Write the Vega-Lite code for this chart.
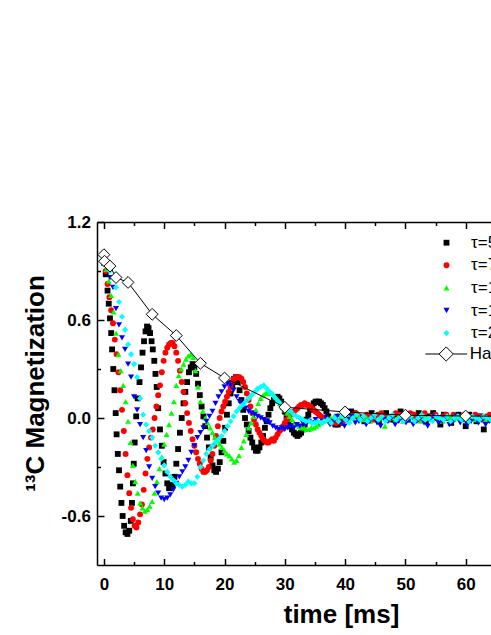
{
"$schema": "https://vega.github.io/schema/vega-lite/v6.json",
"width": 394, "height": 343,
"autosize": {"type": "none"},
"padding": {"left": 97, "top": 222, "right": 0, "bottom": 70},
"background": "white",
"config": {"view": {"stroke": null}, "font": "Liberation Sans"},
"resolve": {"axis": {"x": "independent"}},
"layer": [
{
"data": {"values": [
{"s":"a","t":0,"m":0.95},{"s":"a","t":0.3,"m":0.88},{"s":"a","t":0.6,"m":0.78},{"s":"a","t":0.8,"m":0.7},{"s":"a","t":1.0,"m":0.61},{"s":"a","t":1.2,"m":0.52},{"s":"a","t":1.35,"m":0.42},{"s":"a","t":1.55,"m":0.3},{"s":"a","t":1.75,"m":0.17},{"s":"a","t":1.95,"m":0.03},{"s":"a","t":2.1,"m":-0.1},{"s":"a","t":2.3,"m":-0.22},{"s":"a","t":2.5,"m":-0.32},{"s":"a","t":2.7,"m":-0.42},{"s":"a","t":2.9,"m":-0.52},{"s":"a","t":3.1,"m":-0.6},{"s":"a","t":3.35,"m":-0.66},{"s":"a","t":3.6,"m":-0.7},{"s":"a","t":3.9,"m":-0.71},{"s":"a","t":4.2,"m":-0.69},{"s":"a","t":4.45,"m":-0.63},{"s":"a","t":4.65,"m":-0.52},{"s":"a","t":4.8,"m":-0.4},{"s":"a","t":4.95,"m":-0.28},{"s":"a","t":5.1,"m":-0.15},{"s":"a","t":5.35,"m":0.01},{"s":"a","t":5.6,"m":0.12},{"s":"a","t":5.9,"m":0.22},{"s":"a","t":6.15,"m":0.31},{"s":"a","t":6.4,"m":0.4},{"s":"a","t":6.65,"m":0.47},{"s":"a","t":6.9,"m":0.53},{"s":"a","t":7.15,"m":0.56},{"s":"a","t":7.4,"m":0.55},{"s":"a","t":7.65,"m":0.52},{"s":"a","t":7.9,"m":0.47},{"s":"a","t":8.1,"m":0.42},{"s":"a","t":8.35,"m":0.35},{"s":"a","t":8.55,"m":0.27},{"s":"a","t":8.75,"m":0.19},{"s":"a","t":9.0,"m":0.06},{"s":"a","t":9.3,"m":-0.07},{"s":"a","t":9.6,"m":-0.17},{"s":"a","t":9.9,"m":-0.27},{"s":"a","t":10.2,"m":-0.34},{"s":"a","t":10.5,"m":-0.4},{"s":"a","t":10.8,"m":-0.43},{"s":"a","t":11.1,"m":-0.42},{"s":"a","t":11.4,"m":-0.41},{"s":"a","t":11.7,"m":-0.36},{"s":"a","t":12.0,"m":-0.28},{"s":"a","t":12.3,"m":-0.19},{"s":"a","t":12.6,"m":-0.09},{"s":"a","t":12.9,"m":0.0},{"s":"a","t":13.2,"m":0.09},{"s":"a","t":13.5,"m":0.16},{"s":"a","t":13.8,"m":0.22},{"s":"a","t":14.1,"m":0.28},{"s":"a","t":14.4,"m":0.31},{"s":"a","t":14.7,"m":0.33},{"s":"a","t":15.0,"m":0.31},{"s":"a","t":15.3,"m":0.27},{"s":"a","t":15.6,"m":0.21},{"s":"a","t":15.9,"m":0.14},{"s":"a","t":16.2,"m":0.07},{"s":"a","t":16.5,"m":0.01},{"s":"a","t":16.8,"m":-0.05},{"s":"a","t":17.1,"m":-0.12},{"s":"a","t":17.4,"m":-0.18},{"s":"a","t":17.7,"m":-0.24},{"s":"a","t":18.0,"m":-0.29},{"s":"a","t":18.3,"m":-0.32},{"s":"a","t":18.6,"m":-0.33},{"s":"a","t":18.9,"m":-0.31},{"s":"a","t":19.2,"m":-0.27},{"s":"a","t":19.5,"m":-0.21},{"s":"a","t":19.8,"m":-0.14},{"s":"a","t":20.1,"m":-0.06},{"s":"a","t":20.4,"m":0.02},{"s":"a","t":20.7,"m":0.09},{"s":"a","t":21.0,"m":0.15},{"s":"a","t":21.3,"m":0.2},{"s":"a","t":21.6,"m":0.24},{"s":"a","t":21.9,"m":0.25},{"s":"a","t":22.2,"m":0.22},{"s":"a","t":22.5,"m":0.17},{"s":"a","t":22.8,"m":0.11},{"s":"a","t":23.1,"m":0.05},{"s":"a","t":23.4,"m":0.0},{"s":"a","t":23.7,"m":-0.04},{"s":"a","t":24.0,"m":-0.08},{"s":"a","t":24.3,"m":-0.12},{"s":"a","t":24.6,"m":-0.15},{"s":"a","t":24.9,"m":-0.18},{"s":"a","t":25.2,"m":-0.2},{"s":"a","t":25.5,"m":-0.2},{"s":"a","t":25.8,"m":-0.18},{"s":"a","t":26.1,"m":-0.15},{"s":"a","t":26.4,"m":-0.11},{"s":"a","t":26.7,"m":-0.06},{"s":"a","t":27.0,"m":-0.02},{"s":"a","t":27.3,"m":0.02},{"s":"a","t":27.6,"m":0.06},{"s":"a","t":27.9,"m":0.09},{"s":"a","t":28.2,"m":0.11},{"s":"a","t":28.5,"m":0.12},{"s":"a","t":28.8,"m":0.13},{"s":"a","t":29.1,"m":0.12},{"s":"a","t":29.4,"m":0.1},{"s":"a","t":29.7,"m":0.07},{"s":"a","t":30.0,"m":0.04},{"s":"a","t":30.3,"m":0.01},{"s":"a","t":30.6,"m":-0.02},{"s":"a","t":30.9,"m":-0.05},{"s":"a","t":31.2,"m":-0.07},{"s":"a","t":31.5,"m":-0.09},{"s":"a","t":31.8,"m":-0.1},{"s":"a","t":32.1,"m":-0.11},{"s":"a","t":32.4,"m":-0.1},{"s":"a","t":32.7,"m":-0.09},{"s":"a","t":33.0,"m":-0.07},{"s":"a","t":33.3,"m":-0.04},{"s":"a","t":33.6,"m":-0.01},{"s":"a","t":33.9,"m":0.02},{"s":"a","t":34.2,"m":0.05},{"s":"a","t":34.5,"m":0.07},{"s":"a","t":34.8,"m":0.09},{"s":"a","t":35.1,"m":0.1},{"s":"a","t":35.4,"m":0.1},{"s":"a","t":35.7,"m":0.1},{"s":"a","t":36.0,"m":0.09},{"s":"a","t":36.3,"m":0.08},{"s":"a","t":36.6,"m":0.06},{"s":"a","t":36.9,"m":0.04},{"s":"a","t":37.2,"m":0.01},{"s":"a","t":37.6,"m":-0.02},{"s":"a","t":38.0,"m":-0.03},{"s":"a","t":38.4,"m":-0.04},{"s":"a","t":38.8,"m":-0.04},{"s":"a","t":39.2,"m":-0.03},{"s":"a","t":39.6,"m":-0.01},{"s":"a","t":40.0,"m":0.01},{"s":"a","t":40.5,"m":0.03},{"s":"a","t":41.0,"m":0.04},{"s":"a","t":41.5,"m":0.03},{"s":"a","t":42.0,"m":0.01},{"s":"a","t":42.6,"m":0.0},{"s":"a","t":43.2,"m":-0.02},{"s":"a","t":43.8,"m":0.01},{"s":"a","t":44.4,"m":0.03},{"s":"a","t":45.0,"m":0.0},{"s":"a","t":45.6,"m":-0.02},{"s":"a","t":46.2,"m":0.02},{"s":"a","t":46.8,"m":0.03},{"s":"a","t":47.4,"m":0.0},{"s":"a","t":48.0,"m":-0.01},{"s":"a","t":48.6,"m":0.02},{"s":"a","t":49.2,"m":0.04},{"s":"a","t":49.8,"m":0.01},{"s":"a","t":50.4,"m":-0.01},{"s":"a","t":51.0,"m":0.02},{"s":"a","t":51.6,"m":0.0},{"s":"a","t":52.2,"m":0.03},{"s":"a","t":52.8,"m":0.01},{"s":"a","t":53.4,"m":-0.02},{"s":"a","t":54.0,"m":0.01},{"s":"a","t":54.6,"m":0.03},{"s":"a","t":55.2,"m":0.0},{"s":"a","t":55.8,"m":-0.04},{"s":"a","t":56.4,"m":0.02},{"s":"a","t":57.0,"m":0.0},{"s":"a","t":57.6,"m":-0.03},{"s":"a","t":58.2,"m":0.01},{"s":"a","t":58.8,"m":0.02},{"s":"a","t":59.4,"m":0.0},{"s":"a","t":60.0,"m":-0.05},{"s":"a","t":60.6,"m":0.02},{"s":"a","t":61.2,"m":0.0},{"s":"a","t":61.8,"m":-0.02},{"s":"a","t":62.4,"m":0.01},{"s":"a","t":63.0,"m":-0.07},{"s":"a","t":63.6,"m":0.0},{"s":"a","t":64.2,"m":-0.01},
{"s":"b","t":0,"m":0.95},{"s":"b","t":0.3,"m":0.9},{"s":"b","t":0.6,"m":0.82},{"s":"b","t":0.9,"m":0.74},{"s":"b","t":1.2,"m":0.66},{"s":"b","t":1.5,"m":0.58},{"s":"b","t":1.8,"m":0.48},{"s":"b","t":2.1,"m":0.39},{"s":"b","t":2.4,"m":0.28},{"s":"b","t":2.7,"m":0.17},{"s":"b","t":3.0,"m":0.05},{"s":"b","t":3.3,"m":-0.08},{"s":"b","t":3.6,"m":-0.22},{"s":"b","t":3.9,"m":-0.35},{"s":"b","t":4.2,"m":-0.46},{"s":"b","t":4.5,"m":-0.55},{"s":"b","t":4.8,"m":-0.62},{"s":"b","t":5.1,"m":-0.66},{"s":"b","t":5.4,"m":-0.67},{"s":"b","t":5.7,"m":-0.64},{"s":"b","t":6.0,"m":-0.59},{"s":"b","t":6.3,"m":-0.53},{"s":"b","t":6.6,"m":-0.44},{"s":"b","t":6.9,"m":-0.34},{"s":"b","t":7.2,"m":-0.25},{"s":"b","t":7.5,"m":-0.18},{"s":"b","t":7.8,"m":-0.12},{"s":"b","t":8.1,"m":-0.07},{"s":"b","t":8.4,"m":0.0},{"s":"b","t":8.7,"m":0.07},{"s":"b","t":9.0,"m":0.14},{"s":"b","t":9.3,"m":0.2},{"s":"b","t":9.6,"m":0.28},{"s":"b","t":9.9,"m":0.35},{"s":"b","t":10.2,"m":0.4},{"s":"b","t":10.5,"m":0.43},{"s":"b","t":10.8,"m":0.45},{"s":"b","t":11.1,"m":0.46},{"s":"b","t":11.4,"m":0.46},{"s":"b","t":11.7,"m":0.44},{"s":"b","t":12.0,"m":0.4},{"s":"b","t":12.3,"m":0.35},{"s":"b","t":12.6,"m":0.29},{"s":"b","t":12.9,"m":0.22},{"s":"b","t":13.2,"m":0.16},{"s":"b","t":13.5,"m":0.09},{"s":"b","t":13.8,"m":0.03},{"s":"b","t":14.1,"m":-0.03},{"s":"b","t":14.4,"m":-0.08},{"s":"b","t":14.7,"m":-0.13},{"s":"b","t":15.0,"m":-0.17},{"s":"b","t":15.3,"m":-0.21},{"s":"b","t":15.6,"m":-0.25},{"s":"b","t":15.9,"m":-0.28},{"s":"b","t":16.2,"m":-0.31},{"s":"b","t":16.5,"m":-0.33},{"s":"b","t":16.8,"m":-0.33},{"s":"b","t":17.1,"m":-0.32},{"s":"b","t":17.4,"m":-0.3},{"s":"b","t":17.7,"m":-0.26},{"s":"b","t":18.0,"m":-0.22},{"s":"b","t":18.3,"m":-0.17},{"s":"b","t":18.6,"m":-0.11},{"s":"b","t":18.9,"m":-0.05},{"s":"b","t":19.2,"m":0.0},{"s":"b","t":19.5,"m":0.04},{"s":"b","t":19.8,"m":0.07},{"s":"b","t":20.1,"m":0.1},{"s":"b","t":20.4,"m":0.13},{"s":"b","t":20.7,"m":0.16},{"s":"b","t":21.0,"m":0.19},{"s":"b","t":21.3,"m":0.22},{"s":"b","t":21.6,"m":0.24},{"s":"b","t":21.9,"m":0.25},{"s":"b","t":22.2,"m":0.25},{"s":"b","t":22.5,"m":0.25},{"s":"b","t":22.8,"m":0.24},{"s":"b","t":23.1,"m":0.22},{"s":"b","t":23.4,"m":0.19},{"s":"b","t":23.7,"m":0.15},{"s":"b","t":24.0,"m":0.11},{"s":"b","t":24.3,"m":0.07},{"s":"b","t":24.6,"m":0.03},{"s":"b","t":24.9,"m":-0.01},{"s":"b","t":25.2,"m":-0.04},{"s":"b","t":25.5,"m":-0.07},{"s":"b","t":25.8,"m":-0.09},{"s":"b","t":26.1,"m":-0.11},{"s":"b","t":26.4,"m":-0.13},{"s":"b","t":26.7,"m":-0.14},{"s":"b","t":27.0,"m":-0.15},{"s":"b","t":27.3,"m":-0.15},{"s":"b","t":27.6,"m":-0.14},{"s":"b","t":27.9,"m":-0.13},{"s":"b","t":28.2,"m":-0.14},{"s":"b","t":28.5,"m":-0.12},{"s":"b","t":28.8,"m":-0.1},{"s":"b","t":29.1,"m":-0.08},{"s":"b","t":29.4,"m":-0.07},{"s":"b","t":29.7,"m":-0.05},{"s":"b","t":30.0,"m":-0.03},{"s":"b","t":30.3,"m":-0.01},{"s":"b","t":30.6,"m":0.0},{"s":"b","t":30.9,"m":0.02},{"s":"b","t":31.2,"m":0.03},{"s":"b","t":31.5,"m":0.04},{"s":"b","t":31.8,"m":0.05},{"s":"b","t":32.1,"m":0.06},{"s":"b","t":32.4,"m":0.07},{"s":"b","t":32.7,"m":0.08},{"s":"b","t":33.0,"m":0.08},{"s":"b","t":33.3,"m":0.09},{"s":"b","t":33.6,"m":0.08},{"s":"b","t":33.9,"m":0.08},{"s":"b","t":34.2,"m":0.07},{"s":"b","t":34.5,"m":0.06},{"s":"b","t":34.8,"m":0.05},{"s":"b","t":35.1,"m":0.04},{"s":"b","t":35.4,"m":0.03},{"s":"b","t":35.7,"m":0.02},{"s":"b","t":36.0,"m":0.01},{"s":"b","t":36.5,"m":0.0},{"s":"b","t":37.0,"m":-0.01},{"s":"b","t":37.5,"m":-0.02},{"s":"b","t":38.0,"m":-0.03},{"s":"b","t":38.5,"m":-0.03},{"s":"b","t":39.0,"m":-0.02},{"s":"b","t":39.5,"m":-0.03},{"s":"b","t":40.0,"m":-0.01},{"s":"b","t":40.6,"m":0.01},{"s":"b","t":41.2,"m":0.02},{"s":"b","t":41.8,"m":0.03},{"s":"b","t":42.4,"m":0.01},{"s":"b","t":43.0,"m":0.0},{"s":"b","t":43.6,"m":0.02},{"s":"b","t":44.2,"m":0.01},{"s":"b","t":44.8,"m":-0.01},{"s":"b","t":45.4,"m":0.02},{"s":"b","t":46.0,"m":0.03},{"s":"b","t":46.6,"m":0.01},{"s":"b","t":47.2,"m":-0.01},{"s":"b","t":47.8,"m":0.01},{"s":"b","t":48.4,"m":0.03},{"s":"b","t":49.0,"m":0.02},{"s":"b","t":49.6,"m":0.0},{"s":"b","t":50.2,"m":0.01},{"s":"b","t":50.8,"m":0.03},{"s":"b","t":51.4,"m":0.02},{"s":"b","t":52.0,"m":-0.01},{"s":"b","t":52.6,"m":0.01},{"s":"b","t":53.2,"m":0.03},{"s":"b","t":53.8,"m":0.0},{"s":"b","t":54.4,"m":0.01},{"s":"b","t":55.0,"m":0.02},{"s":"b","t":55.6,"m":-0.01},{"s":"b","t":56.2,"m":0.01},{"s":"b","t":56.8,"m":0.02},{"s":"b","t":57.4,"m":0.0},{"s":"b","t":58.0,"m":0.02},{"s":"b","t":58.6,"m":0.01},{"s":"b","t":59.2,"m":-0.01},{"s":"b","t":59.8,"m":0.02},{"s":"b","t":60.4,"m":0.01},{"s":"b","t":61.0,"m":0.0},{"s":"b","t":61.6,"m":0.02},{"s":"b","t":62.2,"m":0.01},{"s":"b","t":62.8,"m":-0.01},{"s":"b","t":63.4,"m":0.01},{"s":"b","t":64.0,"m":0.02},
{"s":"c","t":0,"m":0.95},{"s":"c","t":0.4,"m":0.91},{"s":"c","t":0.8,"m":0.84},{"s":"c","t":1.2,"m":0.75},{"s":"c","t":1.6,"m":0.65},{"s":"c","t":2.0,"m":0.52},{"s":"c","t":2.4,"m":0.39},{"s":"c","t":2.8,"m":0.29},{"s":"c","t":3.2,"m":0.2},{"s":"c","t":3.6,"m":0.1},{"s":"c","t":4.0,"m":-0.02},{"s":"c","t":4.4,"m":-0.15},{"s":"c","t":4.8,"m":-0.29},{"s":"c","t":5.2,"m":-0.39},{"s":"c","t":5.6,"m":-0.46},{"s":"c","t":6.0,"m":-0.52},{"s":"c","t":6.4,"m":-0.55},{"s":"c","t":6.8,"m":-0.57},{"s":"c","t":7.2,"m":-0.56},{"s":"c","t":7.6,"m":-0.54},{"s":"c","t":8.0,"m":-0.51},{"s":"c","t":8.4,"m":-0.46},{"s":"c","t":8.8,"m":-0.39},{"s":"c","t":9.2,"m":-0.31},{"s":"c","t":9.6,"m":-0.24},{"s":"c","t":10.0,"m":-0.16},{"s":"c","t":10.4,"m":-0.1},{"s":"c","t":10.8,"m":-0.04},{"s":"c","t":11.2,"m":0.03},{"s":"c","t":11.6,"m":0.1},{"s":"c","t":12.0,"m":0.2},{"s":"c","t":12.4,"m":0.26},{"s":"c","t":12.8,"m":0.3},{"s":"c","t":13.2,"m":0.33},{"s":"c","t":13.6,"m":0.36},{"s":"c","t":14.0,"m":0.38},{"s":"c","t":14.4,"m":0.39},{"s":"c","t":14.8,"m":0.37},{"s":"c","t":15.2,"m":0.29},{"s":"c","t":15.6,"m":0.19},{"s":"c","t":16.0,"m":0.1},{"s":"c","t":16.4,"m":0.04},{"s":"c","t":16.8,"m":0.0},{"s":"c","t":17.2,"m":-0.03},{"s":"c","t":17.6,"m":-0.06},{"s":"c","t":18.0,"m":-0.09},{"s":"c","t":18.4,"m":-0.12},{"s":"c","t":18.8,"m":-0.14},{"s":"c","t":19.2,"m":-0.16},{"s":"c","t":19.6,"m":-0.18},{"s":"c","t":20.0,"m":-0.2},{"s":"c","t":20.4,"m":-0.22},{"s":"c","t":20.8,"m":-0.23},{"s":"c","t":21.2,"m":-0.25},{"s":"c","t":21.6,"m":-0.27},{"s":"c","t":22.0,"m":-0.26},{"s":"c","t":22.4,"m":-0.23},{"s":"c","t":22.8,"m":-0.18},{"s":"c","t":23.2,"m":-0.14},{"s":"c","t":23.6,"m":-0.1},{"s":"c","t":24.0,"m":-0.06},{"s":"c","t":24.4,"m":-0.03},{"s":"c","t":24.8,"m":0.01},{"s":"c","t":25.2,"m":0.05},{"s":"c","t":25.6,"m":0.09},{"s":"c","t":26.0,"m":0.12},{"s":"c","t":26.4,"m":0.14},{"s":"c","t":26.8,"m":0.15},{"s":"c","t":27.2,"m":0.16},{"s":"c","t":27.6,"m":0.15},{"s":"c","t":28.0,"m":0.15},{"s":"c","t":28.4,"m":0.13},{"s":"c","t":28.8,"m":0.11},{"s":"c","t":29.2,"m":0.09},{"s":"c","t":29.6,"m":0.07},{"s":"c","t":30.0,"m":0.05},{"s":"c","t":30.4,"m":0.03},{"s":"c","t":30.8,"m":0.01},{"s":"c","t":31.2,"m":-0.01},{"s":"c","t":31.6,"m":-0.03},{"s":"c","t":32.0,"m":-0.04},{"s":"c","t":32.4,"m":-0.05},{"s":"c","t":32.8,"m":-0.06},{"s":"c","t":33.2,"m":-0.06},{"s":"c","t":33.6,"m":-0.07},{"s":"c","t":34.0,"m":-0.07},{"s":"c","t":34.4,"m":-0.06},{"s":"c","t":34.8,"m":-0.06},{"s":"c","t":35.2,"m":-0.05},{"s":"c","t":35.6,"m":-0.04},{"s":"c","t":36.0,"m":-0.03},{"s":"c","t":36.4,"m":-0.02},{"s":"c","t":37.0,"m":-0.01},{"s":"c","t":37.6,"m":0.0},{"s":"c","t":38.2,"m":0.01},{"s":"c","t":38.8,"m":0.02},{"s":"c","t":39.4,"m":0.01},{"s":"c","t":40.0,"m":0.03},{"s":"c","t":40.6,"m":0.02},{"s":"c","t":41.2,"m":0.0},{"s":"c","t":41.8,"m":0.02},{"s":"c","t":42.4,"m":0.01},{"s":"c","t":43.0,"m":-0.01},{"s":"c","t":43.6,"m":0.0},{"s":"c","t":44.2,"m":-0.02},{"s":"c","t":44.8,"m":0.01},{"s":"c","t":45.4,"m":-0.01},{"s":"c","t":46.0,"m":0.0},{"s":"c","t":46.6,"m":-0.05},{"s":"c","t":47.2,"m":0.01},{"s":"c","t":47.8,"m":0.0},{"s":"c","t":48.4,"m":-0.01},{"s":"c","t":49.0,"m":0.01},{"s":"c","t":49.6,"m":-0.02},{"s":"c","t":50.2,"m":0.0},{"s":"c","t":50.8,"m":0.01},{"s":"c","t":51.4,"m":-0.01},{"s":"c","t":52.0,"m":0.0},{"s":"c","t":52.6,"m":-0.02},{"s":"c","t":53.2,"m":0.01},{"s":"c","t":53.8,"m":0.0},{"s":"c","t":54.4,"m":-0.01},{"s":"c","t":55.0,"m":0.01},{"s":"c","t":55.6,"m":0.0},{"s":"c","t":56.2,"m":-0.02},{"s":"c","t":56.8,"m":0.0},{"s":"c","t":57.4,"m":0.01},{"s":"c","t":58.0,"m":-0.01},{"s":"c","t":58.6,"m":0.0},{"s":"c","t":59.2,"m":0.01},{"s":"c","t":59.8,"m":-0.01},{"s":"c","t":60.4,"m":0.0},{"s":"c","t":61.0,"m":0.01},{"s":"c","t":61.6,"m":-0.01},{"s":"c","t":62.2,"m":0.0},{"s":"c","t":62.8,"m":0.01},{"s":"c","t":63.4,"m":-0.01},{"s":"c","t":64.0,"m":0.0},
{"s":"d","t":0,"m":0.95},{"s":"d","t":0.5,"m":0.92},{"s":"d","t":1.0,"m":0.86},{"s":"d","t":1.5,"m":0.8},{"s":"d","t":2.0,"m":0.67},{"s":"d","t":2.5,"m":0.57},{"s":"d","t":3.0,"m":0.49},{"s":"d","t":3.5,"m":0.42},{"s":"d","t":4.0,"m":0.33},{"s":"d","t":4.5,"m":0.25},{"s":"d","t":5.0,"m":0.13},{"s":"d","t":5.5,"m":0.05},{"s":"d","t":6.0,"m":-0.04},{"s":"d","t":6.5,"m":-0.12},{"s":"d","t":7.0,"m":-0.2},{"s":"d","t":7.5,"m":-0.3},{"s":"d","t":8.0,"m":-0.37},{"s":"d","t":8.5,"m":-0.42},{"s":"d","t":9.0,"m":-0.46},{"s":"d","t":9.5,"m":-0.49},{"s":"d","t":10.0,"m":-0.5},{"s":"d","t":10.5,"m":-0.49},{"s":"d","t":11.0,"m":-0.47},{"s":"d","t":11.5,"m":-0.44},{"s":"d","t":12.0,"m":-0.4},{"s":"d","t":12.5,"m":-0.36},{"s":"d","t":13.0,"m":-0.33},{"s":"d","t":13.5,"m":-0.3},{"s":"d","t":14.0,"m":-0.26},{"s":"d","t":14.5,"m":-0.21},{"s":"d","t":15.0,"m":-0.17},{"s":"d","t":15.5,"m":-0.12},{"s":"d","t":16.0,"m":-0.09},{"s":"d","t":16.5,"m":-0.06},{"s":"d","t":17.0,"m":-0.02},{"s":"d","t":17.5,"m":0.01},{"s":"d","t":18.0,"m":0.04},{"s":"d","t":18.5,"m":0.09},{"s":"d","t":19.0,"m":0.13},{"s":"d","t":19.5,"m":0.16},{"s":"d","t":20.0,"m":0.19},{"s":"d","t":20.5,"m":0.21},{"s":"d","t":21.0,"m":0.2},{"s":"d","t":21.5,"m":0.17},{"s":"d","t":22.0,"m":0.13},{"s":"d","t":22.5,"m":0.1},{"s":"d","t":23.0,"m":0.08},{"s":"d","t":23.5,"m":0.06},{"s":"d","t":24.0,"m":0.04},{"s":"d","t":24.5,"m":0.03},{"s":"d","t":25.0,"m":0.02},{"s":"d","t":25.5,"m":0.01},{"s":"d","t":26.0,"m":0.0},{"s":"d","t":26.5,"m":-0.01},{"s":"d","t":27.0,"m":-0.02},{"s":"d","t":27.5,"m":-0.03},{"s":"d","t":28.0,"m":-0.05},{"s":"d","t":28.5,"m":-0.06},{"s":"d","t":29.0,"m":-0.07},{"s":"d","t":29.5,"m":-0.06},{"s":"d","t":30.0,"m":-0.07},{"s":"d","t":30.5,"m":-0.06},{"s":"d","t":31.0,"m":-0.05},{"s":"d","t":31.5,"m":-0.06},{"s":"d","t":32.0,"m":-0.04},{"s":"d","t":32.5,"m":-0.05},{"s":"d","t":33.0,"m":-0.03},{"s":"d","t":33.5,"m":-0.04},{"s":"d","t":34.0,"m":-0.02},{"s":"d","t":34.5,"m":-0.03},{"s":"d","t":35.1,"m":-0.01},{"s":"d","t":35.7,"m":-0.03},{"s":"d","t":36.3,"m":-0.02},{"s":"d","t":36.9,"m":0.0},{"s":"d","t":37.5,"m":-0.04},{"s":"d","t":38.1,"m":-0.02},{"s":"d","t":38.7,"m":0.01},{"s":"d","t":39.3,"m":-0.03},{"s":"d","t":39.9,"m":-0.05},{"s":"d","t":40.5,"m":-0.01},{"s":"d","t":41.1,"m":0.01},{"s":"d","t":41.7,"m":-0.03},{"s":"d","t":42.3,"m":-0.02},{"s":"d","t":42.9,"m":0.0},{"s":"d","t":43.5,"m":-0.04},{"s":"d","t":44.1,"m":-0.02},{"s":"d","t":44.7,"m":0.01},{"s":"d","t":45.3,"m":-0.03},{"s":"d","t":45.9,"m":-0.05},{"s":"d","t":46.5,"m":-0.01},{"s":"d","t":47.1,"m":-0.02},{"s":"d","t":47.7,"m":0.0},{"s":"d","t":48.3,"m":-0.04},{"s":"d","t":48.9,"m":-0.02},{"s":"d","t":49.5,"m":0.01},{"s":"d","t":50.1,"m":-0.03},{"s":"d","t":50.7,"m":-0.01},{"s":"d","t":51.3,"m":-0.04},{"s":"d","t":51.9,"m":-0.02},{"s":"d","t":52.5,"m":0.0},{"s":"d","t":53.1,"m":-0.03},{"s":"d","t":53.7,"m":-0.05},{"s":"d","t":54.3,"m":-0.01},{"s":"d","t":54.9,"m":0.01},{"s":"d","t":55.5,"m":-0.03},{"s":"d","t":56.1,"m":-0.02},{"s":"d","t":56.7,"m":0.0},{"s":"d","t":57.3,"m":-0.04},{"s":"d","t":57.9,"m":-0.02},{"s":"d","t":58.5,"m":0.01},{"s":"d","t":59.1,"m":-0.03},{"s":"d","t":59.7,"m":-0.01},{"s":"d","t":60.3,"m":-0.04},{"s":"d","t":60.9,"m":-0.02},{"s":"d","t":61.5,"m":0.0},{"s":"d","t":62.1,"m":-0.03},{"s":"d","t":62.7,"m":-0.01},{"s":"d","t":63.3,"m":-0.04},{"s":"d","t":63.9,"m":-0.02},
{"s":"e","t":0,"m":0.95},{"s":"e","t":0.5,"m":0.93},{"s":"e","t":1.0,"m":0.9},{"s":"e","t":1.5,"m":0.86},{"s":"e","t":2.0,"m":0.8},{"s":"e","t":2.5,"m":0.71},{"s":"e","t":3.0,"m":0.62},{"s":"e","t":3.5,"m":0.54},{"s":"e","t":4.0,"m":0.45},{"s":"e","t":4.5,"m":0.39},{"s":"e","t":5.0,"m":0.33},{"s":"e","t":5.5,"m":0.25},{"s":"e","t":6.0,"m":0.12},{"s":"e","t":6.5,"m":0.02},{"s":"e","t":7.0,"m":-0.04},{"s":"e","t":7.5,"m":-0.08},{"s":"e","t":8.0,"m":-0.12},{"s":"e","t":8.5,"m":-0.17},{"s":"e","t":9.0,"m":-0.21},{"s":"e","t":9.5,"m":-0.25},{"s":"e","t":10.0,"m":-0.29},{"s":"e","t":10.5,"m":-0.33},{"s":"e","t":11.0,"m":-0.36},{"s":"e","t":11.5,"m":-0.38},{"s":"e","t":12.0,"m":-0.4},{"s":"e","t":12.5,"m":-0.41},{"s":"e","t":13.0,"m":-0.42},{"s":"e","t":13.5,"m":-0.41},{"s":"e","t":14.0,"m":-0.39},{"s":"e","t":14.5,"m":-0.4},{"s":"e","t":15.0,"m":-0.4},{"s":"e","t":15.5,"m":-0.36},{"s":"e","t":16.0,"m":-0.3},{"s":"e","t":16.5,"m":-0.26},{"s":"e","t":17.0,"m":-0.22},{"s":"e","t":17.5,"m":-0.19},{"s":"e","t":18.0,"m":-0.17},{"s":"e","t":18.5,"m":-0.15},{"s":"e","t":19.0,"m":-0.13},{"s":"e","t":19.5,"m":-0.11},{"s":"e","t":20.0,"m":-0.08},{"s":"e","t":20.5,"m":-0.05},{"s":"e","t":21.0,"m":-0.02},{"s":"e","t":21.5,"m":0.01},{"s":"e","t":22.0,"m":0.04},{"s":"e","t":22.5,"m":0.06},{"s":"e","t":23.0,"m":0.08},{"s":"e","t":23.5,"m":0.1},{"s":"e","t":24.0,"m":0.12},{"s":"e","t":24.5,"m":0.14},{"s":"e","t":25.0,"m":0.16},{"s":"e","t":25.5,"m":0.18},{"s":"e","t":26.0,"m":0.19},{"s":"e","t":26.5,"m":0.2},{"s":"e","t":27.0,"m":0.18},{"s":"e","t":27.5,"m":0.16},{"s":"e","t":28.0,"m":0.14},{"s":"e","t":28.5,"m":0.12},{"s":"e","t":29.0,"m":0.1},{"s":"e","t":29.5,"m":0.08},{"s":"e","t":30.0,"m":0.07},{"s":"e","t":30.5,"m":0.05},{"s":"e","t":31.0,"m":0.04},{"s":"e","t":31.5,"m":0.02},{"s":"e","t":32.0,"m":0.01},{"s":"e","t":32.5,"m":0.0},{"s":"e","t":33.0,"m":-0.01},{"s":"e","t":33.5,"m":-0.02},{"s":"e","t":34.0,"m":-0.02},{"s":"e","t":34.5,"m":-0.03},{"s":"e","t":35.0,"m":-0.03},{"s":"e","t":35.5,"m":-0.02},{"s":"e","t":36.0,"m":-0.03},{"s":"e","t":36.5,"m":-0.02},{"s":"e","t":37.1,"m":-0.01},{"s":"e","t":37.7,"m":-0.03},{"s":"e","t":38.3,"m":0.0},{"s":"e","t":38.9,"m":-0.02},{"s":"e","t":39.5,"m":0.01},{"s":"e","t":40.1,"m":-0.01},{"s":"e","t":40.7,"m":-0.03},{"s":"e","t":41.3,"m":0.0},{"s":"e","t":41.9,"m":0.02},{"s":"e","t":42.5,"m":-0.01},{"s":"e","t":43.1,"m":0.01},{"s":"e","t":43.7,"m":-0.02},{"s":"e","t":44.3,"m":0.0},{"s":"e","t":44.9,"m":0.02},{"s":"e","t":45.5,"m":-0.01},{"s":"e","t":46.1,"m":0.01},{"s":"e","t":46.7,"m":-0.02},{"s":"e","t":47.3,"m":0.0},{"s":"e","t":47.9,"m":0.02},{"s":"e","t":48.5,"m":-0.01},{"s":"e","t":49.1,"m":0.01},{"s":"e","t":49.7,"m":-0.02},{"s":"e","t":50.3,"m":0.0},{"s":"e","t":50.9,"m":0.01},{"s":"e","t":51.5,"m":-0.02},{"s":"e","t":52.1,"m":0.0},{"s":"e","t":52.7,"m":0.02},{"s":"e","t":53.3,"m":-0.01},{"s":"e","t":53.9,"m":0.0},{"s":"e","t":54.5,"m":-0.02},{"s":"e","t":55.1,"m":0.01},{"s":"e","t":55.7,"m":0.0},{"s":"e","t":56.3,"m":-0.01},{"s":"e","t":56.9,"m":0.01},{"s":"e","t":57.5,"m":-0.02},{"s":"e","t":58.1,"m":0.0},{"s":"e","t":58.7,"m":0.01},{"s":"e","t":59.3,"m":-0.01},{"s":"e","t":59.9,"m":0.0},{"s":"e","t":60.5,"m":-0.02},{"s":"e","t":61.1,"m":0.01},{"s":"e","t":61.7,"m":0.0},{"s":"e","t":62.3,"m":-0.01},{"s":"e","t":62.9,"m":0.01},{"s":"e","t":63.5,"m":0.0},{"s":"e","t":64.1,"m":-0.01}
]},
"mark": {"type": "point", "filled": true, "opacity": 1, "clip": true, "strokeWidth": 0},
"encoding": {
"x": {"field": "t", "type": "quantitative", "scale": {"domain": [-1.15, 64.2], "nice": false, "zero": false},
 "axis": {"orient": "bottom", "values": [0,5,10,15,20,25,30,35,40,45,50,55,60],
  "labelExpr": "datum.value % 10 == 0 ? datum.label : ''",
  "tickSize": {"condition": {"test": "datum.value % 10 == 0", "value": -6.5}, "value": -3.5},
  "tickWidth": 1.5, "tickColor": "black", "domainColor": "black", "domainWidth": 1.5, "grid": false,
  "labelFont": "Liberation Sans", "labelFontWeight": "bold", "labelFontSize": 17, "labelColor": "black",
  "labelPadding": 18, "labelFlush": false, "labelOverlap": false,
  "title": "time [ms]", "titleFont": "Liberation Sans", "titleFontWeight": "bold", "titleFontSize": 26, "titleColor": "black",
  "titleX": 244, "titleY": 57.5, "titleBaseline": "alphabetic", "titleAlign": "center"}},
"y": {"field": "m", "type": "quantitative", "scale": {"domain": [-0.9, 1.2], "nice": false, "zero": false},
 "axis": {"orient": "left", "values": [-0.6,-0.3,0,0.3,0.6,0.9,1.2],
  "labelExpr": "(datum.value == 0 || abs(datum.value) == 0.6 || datum.value == 1.2) ? ((datum.value < 0 ? '-' : '') + format(abs(datum.value), '.1f')) : ''",
  "tickSize": {"condition": {"test": "datum.value == 0 || abs(datum.value) == 0.6 || datum.value == 1.2", "value": -7}, "value": -3.5},
  "tickWidth": 1.5, "tickColor": "black", "domainColor": "black", "domainWidth": 1.5, "grid": false,
  "labelFont": "Liberation Sans", "labelFontWeight": "bold", "labelFontSize": 17, "labelColor": "black",
  "labelPadding": 13.6, "labelFlush": false, "labelOverlap": false, "labelBaseline": "middle",
  "title": "¹³C Magnetization", "titleFont": "Liberation Sans", "titleFontWeight": "bold", "titleFontSize": 26, "titleColor": "black",
  "titleAngle": -90, "titleX": -54, "titleY": 161, "titleBaseline": "alphabetic", "titleAlign": "center"}},
"color": {"field": "s", "type": "nominal",
 "scale": {"domain": ["a","b","c","d","e"], "range": ["#000000","#ff0000","#00ff00","#0000ff","#00ffff"]},
 "legend": {"orient": "none", "legendX": 341, "legendY": 12.2, "title": null, "padding": 0,
  "symbolSize": 30, "symbolStrokeWidth": 0, "labelFont": "Liberation Sans", "labelFontSize": 17, "labelColor": "black",
  "labelOffset": 16, "rowPadding": 4.6,
  "labelExpr": "datum.label == 'a' ? 'τ=50 μs' : datum.label == 'b' ? 'τ=75 μs' : datum.label == 'c' ? 'τ=100 μs' : datum.label == 'd' ? 'τ=150 μs' : 'τ=200 μs'"}},
"shape": {"field": "s", "type": "nominal",
 "scale": {"domain": ["a","b","c","d","e"], "range": ["square","circle","triangle-up","triangle-down","diamond"]},
 "legend": {"orient": "none", "legendX": 341, "legendY": 12.2, "title": null, "padding": 0,
  "symbolSize": 30, "symbolStrokeWidth": 0, "labelFont": "Liberation Sans", "labelFontSize": 17, "labelColor": "black",
  "labelOffset": 16, "rowPadding": 4.6,
  "labelExpr": "datum.label == 'a' ? 'τ=50 μs' : datum.label == 'b' ? 'τ=75 μs' : datum.label == 'c' ? 'τ=100 μs' : datum.label == 'd' ? 'τ=150 μs' : 'τ=200 μs'"}},
"size": {"field": "s", "type": "ordinal", "scale": {"domain": ["a","b","c","d","e"], "range": [34, 38, 50, 50, 42]}, "legend": null}
}
},
{
"data": {"values": [
{"t":0,"m":1.0},{"t":0.1,"m":0.96},{"t":1.0,"m":0.93},{"t":2.0,"m":0.86},{"t":4.0,"m":0.83},{"t":8.0,"m":0.635},{"t":12.0,"m":0.505},{"t":16.0,"m":0.335},{"t":20.0,"m":0.245},{"t":30.0,"m":0.066},{"t":40.0,"m":0.037},{"t":50.0,"m":0.017},{"t":60.0,"m":0.012},{"t":70.0,"m":0.01}
]},
"mark": {"type": "line", "clip": true, "strokeWidth": 1,
 "point": {"filled": false, "fill": "white", "shape": "diamond", "size": 140, "strokeWidth": 1, "opacity": 1}},
"encoding": {
"x": {"field": "t", "type": "quantitative",
 "axis": {"orient": "top", "values": [0,5,10,15,20,25,30,35,40,45,50,55,60], "labels": false, "title": null,
  "tickSize": {"condition": {"test": "datum.value % 10 == 0", "value": -6.5}, "value": -3.5},
  "tickWidth": 1.5, "tickColor": "black", "domainColor": "black", "domainWidth": 1.5, "grid": false}},
"y": {"field": "m", "type": "quantitative"},
"stroke": {"datum": "Hahn echo", "scale": {"range": ["black"]},
 "legend": {"orient": "none", "legendX": 327.7, "legendY": 110.5, "title": null, "padding": 0,
  "symbolType": "M-1,0L-0.34,0M0.34,0L1,0M0,-0.34L0.34,0L0,0.34L-0.34,0Z", "symbolSize": 1739,
  "symbolStrokeWidth": 1, "symbolFillColor": "white", "labelFont": "Liberation Sans", "labelFontSize": 17, "labelColor": "black", "labelOffset": 2,
  "encode": {"symbols": {"update": {"fill": {"value": "white"}, "stroke": {"value": "black"}, "strokeWidth": {"value": 1}}}}}}
}
}
]
}
